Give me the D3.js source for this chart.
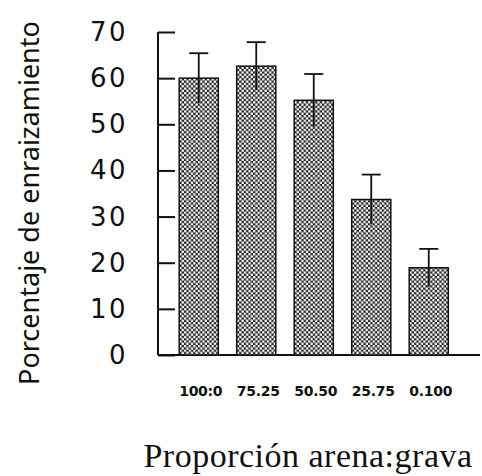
<!DOCTYPE html>
<html lang="es">
<head>
<meta charset="UTF-8">
<title>Porcentaje de enraizamiento</title>
<script src="https://d3js.org/d3.v7.min.js"></script>
<style>
    body { margin: 0; padding: 0; background: #fff; }
    svg { display: block; }
</style>
</head>
<body>
<div id="chart"></div>
<script>
// data
const categories = ["100:0", "75.25", "50.50", "25.75", "0.100"];
const means = [60, 62.6, 55.2, 33.7, 18.9];
const errors = [5.4, 5.2, 5.7, 5.4, 4.1];
const yTicks = [0, 10, 20, 30, 40, 50, 60, 70];

const W = 482, H = 476;
const svg = d3.select("#chart").append("svg")
    .attr("width", W).attr("height", H);

// crosshatch fill like the scanned bars
const defs = svg.append("defs");
const pat = defs.append("pattern")
    .attr("id", "hatch")
    .attr("patternUnits", "userSpaceOnUse")
    .attr("width", 4.6).attr("height", 4.6);
pat.append("rect").attr("width", 4.6).attr("height", 4.6).attr("fill", "#222");
pat.append("circle").attr("cx", 1.15).attr("cy", 1.15).attr("r", 1.3).attr("fill", "#fff");
pat.append("circle").attr("cx", 3.45).attr("cy", 3.45).attr("r", 1.3).attr("fill", "#fff");

const y = d3.scaleLinear().domain([0, 70]).range([355, 32]);
const x = d3.scaleBand().domain(categories).range([170, 457.5])
    .paddingInner(0.32).paddingOuter(0.16);
const axisX = 158;

// y axis, ticks pointing inward
const yAxis = svg.append("g")
    .attr("transform", `translate(${axisX},0)`)
    .call(d3.axisRight(y).tickValues(yTicks).tickSize(17).tickFormat(""));
yAxis.select(".domain").remove();
yAxis.selectAll(".tick line").attr("stroke", "#111").attr("stroke-width", 2);
svg.append("line")
    .attr("x1", axisX).attr("x2", axisX)
    .attr("y1", y(70)).attr("y2", y(0))
    .attr("stroke", "#111").attr("stroke-width", 2);

// tick labels
svg.append("g").selectAll("text")
    .data(yTicks)
    .join("text")
    .attr("x", 128)
    .attr("y", d => y(d) + 9)
    .attr("text-anchor", "end")
    .attr("font-family", "DejaVu Sans, sans-serif")
    .attr("font-size", 26)
    .attr("letter-spacing", 2.5)
    .attr("fill", "#111")
    .text(d => d);

// baseline
svg.append("line")
    .attr("x1", axisX).attr("x2", 480)
    .attr("y1", y(0)).attr("y2", y(0))
    .attr("stroke", "#111").attr("stroke-width", 2);

// bars
svg.append("g").selectAll("rect")
    .data(categories)
    .join("rect")
    .attr("x", d => x(d))
    .attr("y", (d, i) => y(means[i]))
    .attr("width", x.bandwidth())
    .attr("height", (d, i) => y(0) - y(means[i]))
    .attr("fill", "url(#hatch)")
    .attr("stroke", "#111")
    .attr("stroke-width", 1.5);

// error bars
const eb = svg.append("g").attr("stroke", "#111").attr("stroke-width", 1.8);
categories.forEach((c, i) => {
    const cx = x(c) + x.bandwidth() / 2;
    eb.append("line")
        .attr("x1", cx).attr("x2", cx)
        .attr("y1", y(means[i] + errors[i])).attr("y2", y(means[i] - errors[i]));
    eb.append("line")
        .attr("x1", cx - 9.5).attr("x2", cx + 9.5)
        .attr("y1", y(means[i] + errors[i])).attr("y2", y(means[i] + errors[i]));
});

// category labels
svg.append("g").selectAll("text")
    .data(categories)
    .join("text")
    .attr("x", d => x(d) + x.bandwidth() / 2 + 2)
    .attr("y", 396)
    .attr("text-anchor", "middle")
    .attr("font-family", "DejaVu Sans, sans-serif")
    .attr("font-weight", "bold")
    .attr("font-size", 14)
    .attr("letter-spacing", -0.3)
    .attr("fill", "#111")
    .text(d => d);

// axis titles
svg.append("text")
    .attr("transform", "translate(39,203) rotate(-90)")
    .attr("text-anchor", "middle")
    .attr("font-family", "Noto Sans, sans-serif")
    .attr("font-size", 27)
    .attr("fill", "#111")
    .text("Porcentaje de enraizamiento");

svg.append("text")
    .attr("x", 308)
    .attr("y", 467)
    .attr("text-anchor", "middle")
    .attr("font-family", "Liberation Serif, Times New Roman, serif")
    .attr("font-size", 34)
    .attr("letter-spacing", 0.5)
    .attr("fill", "#111")
    .text("Proporción arena:grava");
</script>
</body>
</html>
